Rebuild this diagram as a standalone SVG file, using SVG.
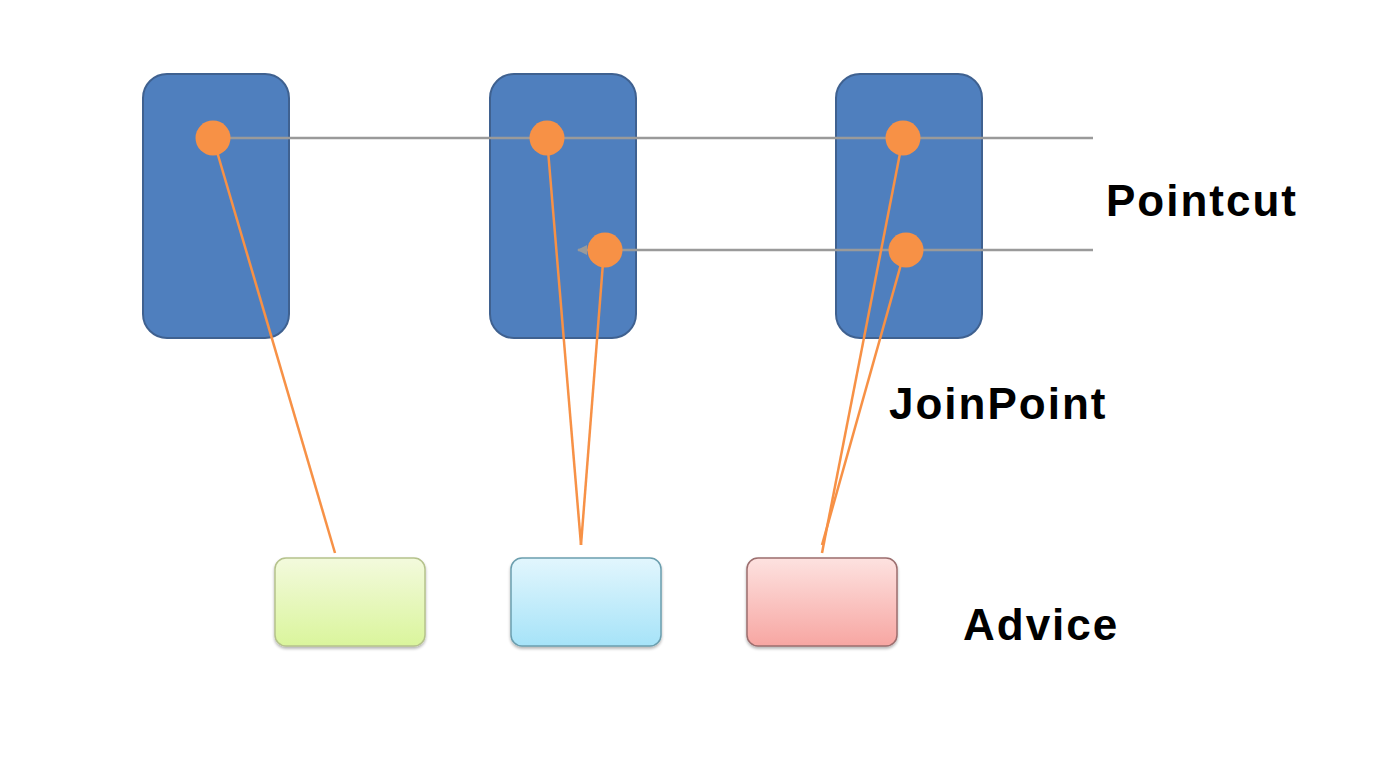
<svg xmlns="http://www.w3.org/2000/svg" width="1386" height="782" viewBox="0 0 1386 782">
<defs>
<style>
.comp{fill:#4f7fbe;stroke:#3f6190;stroke-width:2}
.jp{fill:#f79146}
.pc{stroke:#9a9a9a;stroke-width:2.5;fill:none}
.adv{stroke:#f79146;stroke-width:2.5;fill:none}
.lbl{font-family:"Liberation Sans",Arial,sans-serif;font-weight:bold;font-size:44px;letter-spacing:2px;fill:#000}
</style>
<linearGradient id="gG" x1="0" y1="0" x2="0" y2="1"><stop offset="0" stop-color="#f3fadd"/><stop offset="1" stop-color="#daf59c"/></linearGradient>
<linearGradient id="gB" x1="0" y1="0" x2="0" y2="1"><stop offset="0" stop-color="#e2f6fd"/><stop offset="1" stop-color="#a6e3f8"/></linearGradient>
<linearGradient id="gR" x1="0" y1="0" x2="0" y2="1"><stop offset="0" stop-color="#fde2e0"/><stop offset="1" stop-color="#f7a6a2"/></linearGradient>
<filter id="sh" x="-10%" y="-10%" width="120%" height="125%"><feGaussianBlur in="SourceAlpha" stdDeviation="1.5"/><feOffset dy="1.5"/><feComponentTransfer><feFuncA type="linear" slope="0.3"/></feComponentTransfer><feMerge><feMergeNode/><feMergeNode in="SourceGraphic"/></feMerge></filter>
<marker id="ah" markerWidth="10" markerHeight="10" refX="9" refY="5" orient="auto" markerUnits="userSpaceOnUse"><path d="M10,5 L0,0 L0,10 Z" fill="#9a9a9a"/></marker>
</defs>
<rect width="1386" height="782" fill="#fff"/>
<g id="component1"><rect class="comp" x="143" y="74" width="146" height="264" rx="24"/></g>
<g id="component2"><rect class="comp" x="490" y="74" width="146" height="264" rx="24"/></g>
<g id="component3"><rect class="comp" x="836" y="74" width="146" height="264" rx="24"/></g>
<g id="advice1"><rect x="275" y="558" width="150" height="88" rx="11" fill="url(#gG)" stroke="#b5c28c" stroke-width="1.5" filter="url(#sh)"/></g>
<g id="advice2"><rect x="511" y="558" width="150" height="88" rx="11" fill="url(#gB)" stroke="#6b9eae" stroke-width="1.5" filter="url(#sh)"/></g>
<g id="advice3"><rect x="747" y="558" width="150" height="88" rx="11" fill="url(#gR)" stroke="#9c6e6e" stroke-width="1.5" filter="url(#sh)"/></g>
<g id="connectors">
<path class="pc" d="M1093,138 H200"/>
<path class="pc" d="M1093,250 H578" marker-end="url(#ah)"/>
<path class="adv" d="M213,138 L335,553"/>
<path class="adv" d="M547,138 L581,545"/>
<path class="adv" d="M604,250 L581,545"/>
<path class="adv" d="M903,138 L822,553"/>
<path class="adv" d="M905,250 L822,545"/>
</g>
<g id="joinpoints">
<circle class="jp" cx="213" cy="138" r="17.5"/>
<circle class="jp" cx="547" cy="138" r="17.5"/>
<circle class="jp" cx="903" cy="138" r="17.5"/>
<circle class="jp" cx="605" cy="250" r="17.5"/>
<circle class="jp" cx="906" cy="250" r="17.5"/>
</g>
<g id="labels">
<text class="lbl" x="1106" y="216">Pointcut</text>
<text class="lbl" x="889" y="419">JoinPoint</text>
<text class="lbl" x="963" y="640">Advice</text>
</g>
</svg>
